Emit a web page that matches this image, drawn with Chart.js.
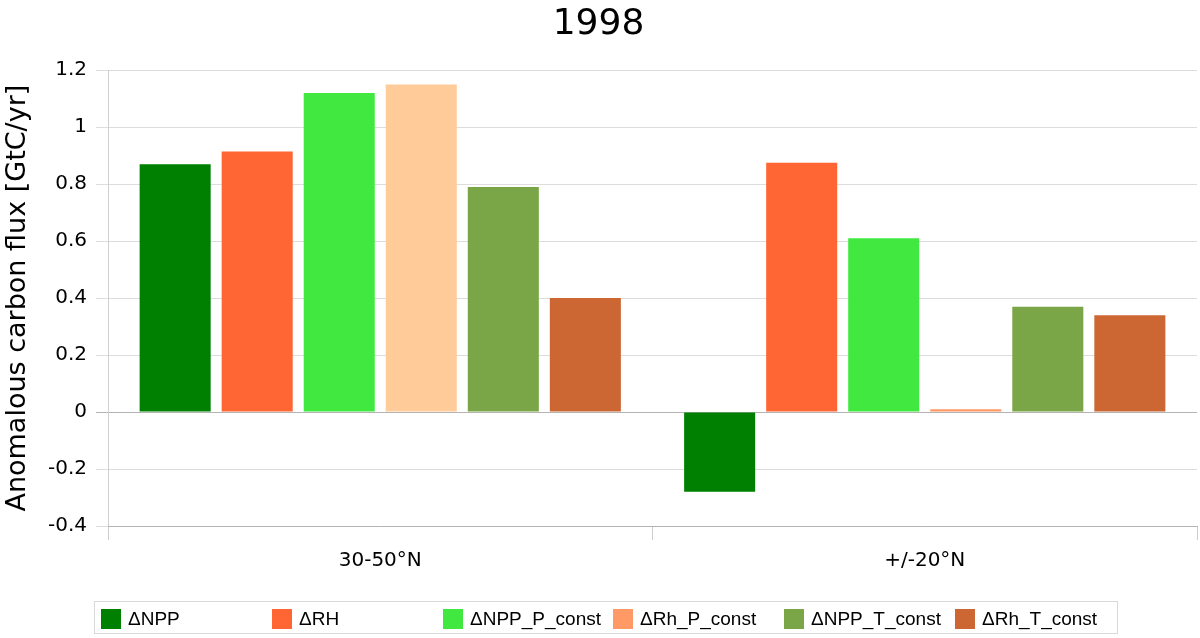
<!DOCTYPE html>
<html><head><meta charset="utf-8">
<script src="https://cdn.jsdelivr.net/npm/chart.js@4.4.0/dist/chart.umd.min.js"></script>
<style>html,body{margin:0;padding:0;background:#fff}#wrap{width:1200px;height:638px}</style>
</head><body><div id="wrap"><canvas id="c" width="1200" height="638"></canvas></div>
<script>
const categories = ['30-50°N', '+/-20°N'];
const seriesNames = ['ΔNPP', 'ΔRH', 'ΔNPP_P_const', 'ΔRh_P_const', 'ΔNPP_T_const', 'ΔRh_T_const'];
const dNPP   = [0.87, -0.28];
const dRH    = [0.915, 0.875];
const dNPP_P = [1.12, 0.61];
const dRh_P  = [1.15, 0.01];
const dNPP_T = [0.79, 0.37];
const dRh_T  = [0.40, 0.34];
const yTickValues = [-0.4, -0.2, 0, 0.2, 0.4, 0.6, 0.8, 1, 1.2];

const barColors = ['#008000', '#ff6633', '#40e840', ['#ffcc99', '#ff9966'], '#7aa647', '#cc6633'];
const legendColors = ['#008000', '#ff6633', '#40e840', '#ff9966', '#7aa647', '#cc6633'];
const seriesValues = [dNPP, dRH, dNPP_P, dRh_P, dNPP_T, dRh_T];

const FONT = '"DejaVu Sans", sans-serif';

const legendBox = {
  id: 'legendBox',
  afterDraw(chart) {
    const ctx = chart.ctx;
    ctx.save();
    ctx.strokeStyle = '#d9d9d9';
    ctx.lineWidth = 1;
    ctx.strokeRect(94.5, 601.5, 1023, 32);
    ctx.font = '19px "Liberation Sans", Arial, sans-serif';
    ctx.textBaseline = 'middle';
    ctx.textAlign = 'left';
    chart.data.datasets.forEach((ds, i) => {
      const x = Math.round(101 + i * 170.8);
      ctx.fillStyle = legendColors[i];
      ctx.fillRect(x, 609, 20, 20);
      ctx.fillStyle = '#000';
      ctx.fillText(ds.label, x + 27, 620);
    });
    ctx.restore();
  }
};

new Chart(document.getElementById('c'), {
  type: 'bar',
  data: {
    labels: categories,
    datasets: seriesNames.map((name, i) => ({
      label: name,
      data: seriesValues[i],
      backgroundColor: barColors[i],
      borderWidth: 0,
      categoryPercentage: 0.904,
      barPercentage: 0.866
    }))
  },
  options: {
    responsive: false,
    animation: false,
    devicePixelRatio: 1,
    layout: { padding: { left: 0, right: 3, top: 0, bottom: 62 } },
    plugins: {
      legend: { display: false },
      tooltip: { enabled: false },
      title: {
        display: true,
        text: '1998',
        color: '#000',
        font: { family: FONT, size: 36, weight: 'normal' },
        padding: { top: 3, bottom: 24 }
      }
    },
    scales: {
      y: {
        min: -0.4,
        max: 1.2,
        afterFit(scale) { scale.width = 108; },
        afterBuildTicks(scale) { scale.ticks = yTickValues.map(v => ({ value: v })); },
        ticks: {
          color: '#000',
          font: { family: FONT, size: 20 },
          padding: 9,
          callback: v => String(Math.round(v * 10) / 10)
        },
        grid: {
          color: ctx => (ctx.tick && ctx.tick.value === 0) ? '#b3b3b3' : '#dddddd',
          tickLength: 12,
          lineWidth: 1
        },
        border: { color: '#d0d0d0' },
        title: {
          display: true,
          text: 'Anomalous carbon flux [GtC/yr]',
          color: '#000',
          font: { family: FONT, size: 27 },
          padding: { top: 2, bottom: 0 }
        }
      },
      x: {
        afterFit(scale) { scale.height = 50; },
        ticks: {
          color: '#000',
          font: { family: FONT, size: 20 },
          padding: 9
        },
        grid: {
          offset: true,
          drawOnChartArea: false,
          drawTicks: true,
          tickLength: 14,
          color: '#cccccc'
        },
        border: { color: '#b3b3b3' }
      }
    }
  },
  plugins: [legendBox]
});
</script>
</body></html>
